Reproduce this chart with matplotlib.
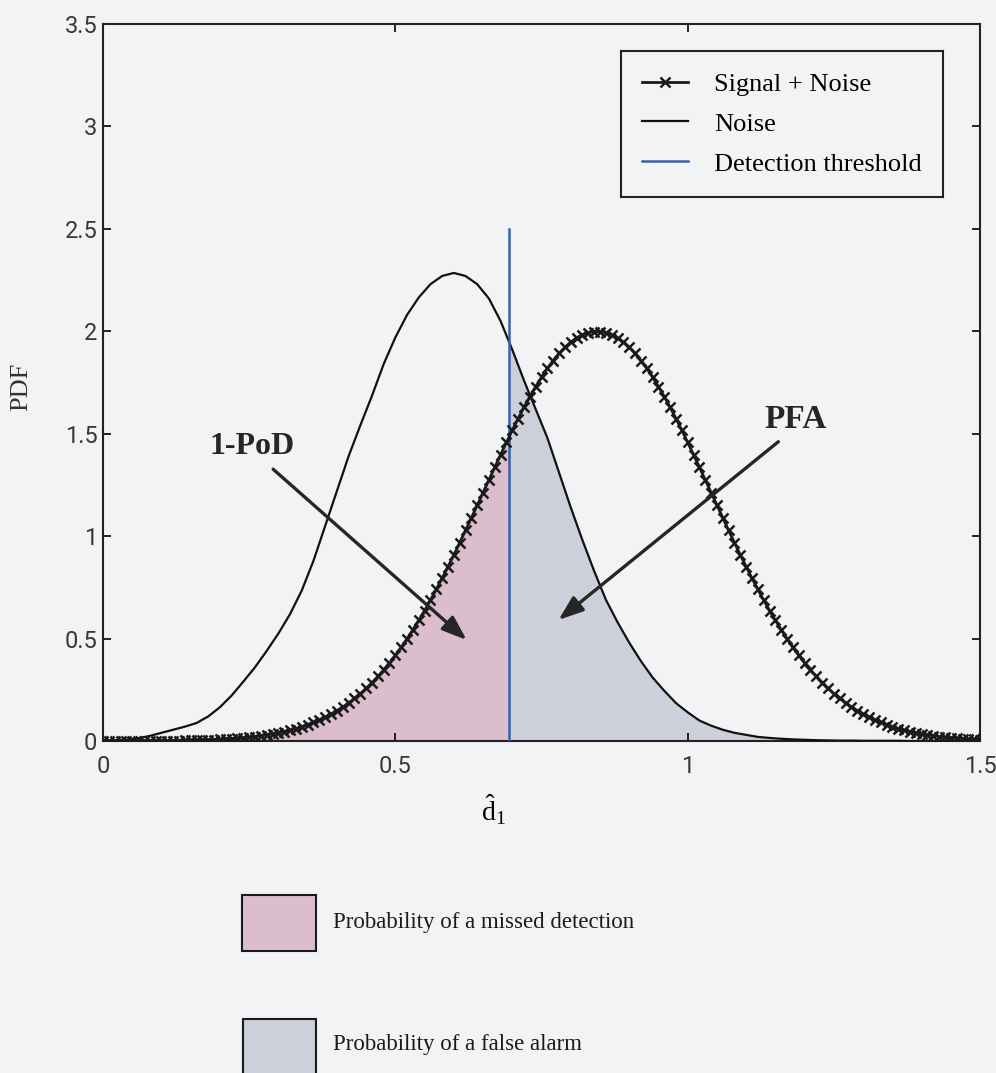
import numpy as np
import matplotlib
matplotlib.use("Agg")
import matplotlib.pyplot as plt
from matplotlib.patches import Rectangle

# detection statistic grid (0:0.01:1.5)
d1 = np.round(np.arange(151) * 0.01, 2)

# PDF of the estimate with signal present (one value per marker)
signal_pdf = [
    0.000, 0.000, 0.000, 0.000, 0.000, 0.001, 0.001, 0.001, 0.001, 0.001,
    0.001, 0.002, 0.002, 0.002, 0.003, 0.004, 0.004, 0.005, 0.006, 0.007,
    0.008, 0.010, 0.012, 0.014, 0.016, 0.019, 0.022, 0.026, 0.030, 0.035,
    0.040, 0.046, 0.053, 0.061, 0.070, 0.080, 0.091, 0.103, 0.117, 0.131,
    0.148, 0.166, 0.186, 0.208, 0.231, 0.257, 0.285, 0.315, 0.347, 0.381,
    0.418, 0.457, 0.499, 0.543, 0.589, 0.637, 0.687, 0.740, 0.794, 0.851,
    0.908, 0.968, 1.028, 1.089, 1.151, 1.213, 1.275, 1.337, 1.398, 1.458,
    1.517, 1.574, 1.629, 1.681, 1.730, 1.776, 1.819, 1.857, 1.892, 1.922,
    1.947, 1.968, 1.984, 1.994, 1.999, 1.999, 1.994, 1.984, 1.968, 1.947,
    1.922, 1.892, 1.857, 1.819, 1.776, 1.730, 1.681, 1.629, 1.574, 1.517,
    1.458, 1.398, 1.337, 1.275, 1.213, 1.151, 1.089, 1.028, 0.968, 0.908,
    0.851, 0.794, 0.740, 0.687, 0.637, 0.589, 0.543, 0.499, 0.457, 0.418,
    0.381, 0.347, 0.315, 0.285, 0.257, 0.231, 0.208, 0.186, 0.166, 0.148,
    0.131, 0.117, 0.103, 0.091, 0.080, 0.070, 0.061, 0.053, 0.046, 0.040,
    0.035, 0.030, 0.026, 0.022, 0.019, 0.016, 0.014, 0.012, 0.010, 0.008,
    0.007,
]

# noise-only PDF, read every 0.02
noise_x = np.round(np.arange(76) * 0.02, 2)
noise_pdf = [
    0.000, 0.002, 0.006, 0.013, 0.025, 0.040, 0.055, 0.070, 0.088, 0.120,
    0.165, 0.222, 0.290, 0.360, 0.440, 0.525, 0.620, 0.735, 0.880, 1.050,
    1.220, 1.390, 1.540, 1.685, 1.840, 1.970, 2.080, 2.165, 2.230, 2.270,
    2.285, 2.270, 2.230, 2.160, 2.050, 1.910, 1.760, 1.620, 1.480, 1.310,
    1.140, 0.980, 0.830, 0.690, 0.580, 0.480, 0.390, 0.310, 0.245, 0.185,
    0.140, 0.100, 0.075, 0.055, 0.040, 0.030, 0.020, 0.015, 0.011, 0.008,
    0.006, 0.004, 0.003, 0.002, 0.002, 0.001, 0.001, 0.001, 0.001, 0.000,
    0.000, 0.000, 0.000, 0.000, 0.000, 0.000,
]

threshold = 0.695
threshold_top = 2.5

bg = "#f2f3f5"
pink = "#dcbdcd"
grey = "#cdd0da"
blue = "#3660a8"

plt.rcParams["mathtext.fontset"] = "custom"
plt.rcParams["mathtext.rm"] = "Liberation Serif"
plt.rcParams["mathtext.it"] = "Liberation Serif:italic"

fig = plt.figure(figsize=(9.96, 10.73), dpi=100, facecolor=bg)
ax = fig.add_axes([0.1034, 0.3094, 0.8806, 0.6682], facecolor=bg)

# shaded areas either side of the threshold
miss = ax.fill_between(d1, signal_pdf, 0, color=pink, lw=0, zorder=1)
miss.set_clip_path(Rectangle((0, 0), threshold, 3.5, transform=ax.transData))
fa = ax.fill_between(noise_x, noise_pdf, 0, color=grey, lw=0, zorder=1)
fa.set_clip_path(Rectangle((threshold, 0), 1.5, 3.5, transform=ax.transData))

ax.plot(noise_x, noise_pdf, color="#111111", lw=1.6, zorder=3, label="Noise")
ax.plot([threshold, threshold], [0, threshold_top], color=blue, lw=1.8, zorder=4,
        label="Detection threshold")
ax.plot(d1, signal_pdf, color="#1a1a1a", lw=2.0, marker="x", ms=7, mew=1.8,
        zorder=5, label="Signal + Noise")

ax.set_xlim(0, 1.5)
ax.set_ylim(0, 3.5)
ax.set_xticks([0, 0.5, 1, 1.5])
ax.set_xticklabels(["0", "0.5", "1", "1.5"])
ax.set_yticks([0, 0.5, 1, 1.5, 2, 2.5, 3, 3.5])
ax.set_yticklabels(["0", "0.5", "1", "1.5", "2", "2.5", "3", "3.5"])
ax.tick_params(direction="in", length=6, width=1.2, top=True, right=True,
               labelsize=17, labelcolor="#383838")
ax.tick_params(axis="x", pad=10)
ax.tick_params(axis="y", pad=4)
for lab in ax.get_xticklabels() + ax.get_yticklabels():
    lab.set_family(["Roboto"])
for s in ax.spines.values():
    s.set_linewidth(1.5)
    s.set_color("#222222")

ax.set_xlabel(r"$\hat{\mathrm{d}}_{1}$", fontsize=20)
ax.xaxis.set_label_coords(0.445, -0.072)
ax.set_ylabel("PDF", fontsize=19, family="Liberation Serif", color="#333333")
ax.yaxis.set_label_coords(-0.0935, 0.494)
ax.yaxis.label.set_verticalalignment("center")

handles, labels = ax.get_legend_handles_labels()
order = [2, 0, 1]
leg = ax.legend([handles[i] for i in order], [labels[i] for i in order],
                loc="upper right", bbox_to_anchor=(0.958, 0.962),
                borderaxespad=0, fancybox=False, framealpha=1,
                edgecolor="#222222", facecolor=bg,
                prop={"family": "Liberation Serif", "size": 19},
                handlelength=1.75, handletextpad=1.0, labelspacing=0.62,
                borderpad=0.8)
leg.get_frame().set_linewidth(1.5)

arrow = dict(arrowstyle="-|>,head_length=0.6,head_width=0.22",
             color="#262626", lw=2.4, mutation_scale=25, shrinkA=0, shrinkB=0)
ax.annotate("", xy=(0.622, 0.493), xytext=(0.291, 1.327), arrowprops=arrow,
            zorder=6)
ax.annotate("", xy=(0.779, 0.591), xytext=(1.155, 1.461), arrowprops=arrow,
            zorder=6)
ax.text(0.255, 1.44, "1-PoD", fontsize=23, fontweight="bold",
        family="Liberation Serif", color="#262626", ha="center", va="center")
ax.text(1.185, 1.57, "PFA", fontsize=24, fontweight="bold",
        family="Liberation Serif", color="#262626", ha="center", va="center")

# key for the shaded areas, below the axes
fig.patches.append(Rectangle((0.243, 0.1137), 0.0743, 0.0522, facecolor=pink,
                             edgecolor="#1a1a1a", lw=1.5,
                             transform=fig.transFigure, figure=fig))
fig.patches.append(Rectangle((0.244, -0.0028), 0.0733, 0.0531, facecolor=grey,
                             edgecolor="#1a1a1a", lw=1.5,
                             transform=fig.transFigure, figure=fig))
fig.text(0.334, 0.1398, "Probability of a missed detection", fontsize=16.5,
         family="Liberation Serif", color="#1a1a1a", va="center")
fig.text(0.334, 0.0261, "Probability of a false alarm", fontsize=16.5,
         family="Liberation Serif", color="#1a1a1a", va="center")

fig.savefig("out.png", dpi=100, facecolor=bg)
